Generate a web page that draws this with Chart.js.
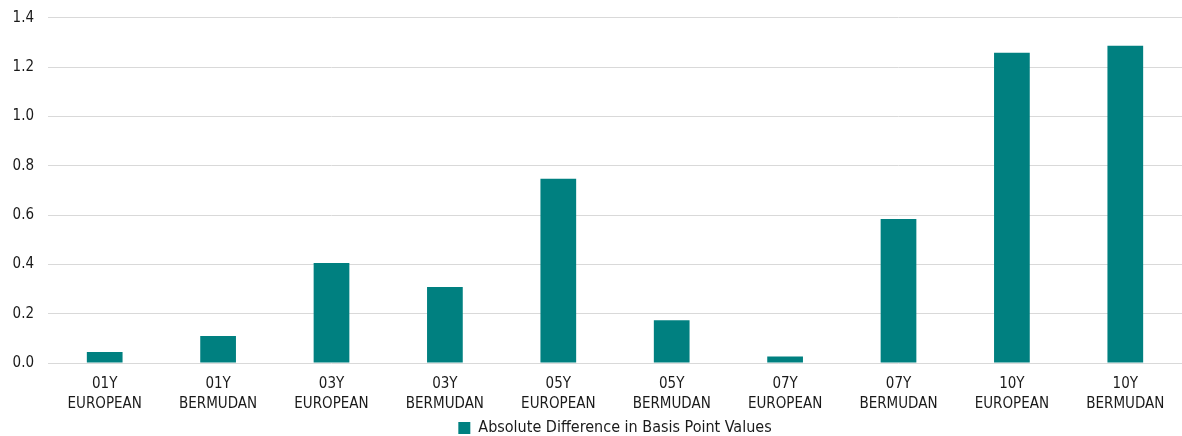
<!DOCTYPE html>
<html>
<head>
<meta charset="utf-8">
<script src="https://cdn.jsdelivr.net/npm/chart.js@4.4.9/dist/chart.umd.min.js"></script>
<style>
    html, body { margin: 0; padding: 0; background: #fff; }
    #wrap { width: 1182px; height: 436px; position: relative; }
</style>
</head>
<body>
<div id="wrap"><canvas id="chartBar"></canvas></div>
<script>
const categorias = [
    ['01Y', 'EUROPEAN'], ['01Y', 'BERMUDAN'],
    ['03Y', 'EUROPEAN'], ['03Y', 'BERMUDAN'],
    ['05Y', 'EUROPEAN'], ['05Y', 'BERMUDAN'],
    ['07Y', 'EUROPEAN'], ['07Y', 'BERMUDAN'],
    ['10Y', 'EUROPEAN'], ['10Y', 'BERMUDAN']
];
const valores = [0.045, 0.109, 0.406, 0.308, 0.747, 0.173, 0.026, 0.584, 1.258, 1.286];
const serieNome = 'Absolute Difference in Basis Point Values';
const ticksY = [0, 0.2, 0.4, 0.6, 0.8, 1.0, 1.2, 1.4];

const fonte = "'DejaVu Sans Condensed', 'DejaVu Sans', sans-serif";
const corTexto = '#1a1a1a';

const ctx = document.getElementById('chartBar');
new Chart(ctx, {
    type: 'bar',
    data: {
        labels: categorias,
        datasets: [{
            label: serieNome,
            data: valores,
            backgroundColor: '#008080',
            categoryPercentage: 1.0,
            barPercentage: 0.315
        }]
    },
    options: {
        responsive: true,
        maintainAspectRatio: false,
        animation: false,
        // bottom negativo: empurra a folga extra da legenda para fora do canvas
        layout: { padding: { top: 17, right: -6, bottom: -10, left: 0 } },
        plugins: {
            tooltip: { enabled: false },
            legend: {
                position: 'bottom',
                fullSize: false,
                labels: {
                    boxWidth: 12,
                    boxHeight: 12,
                    padding: 0,
                    color: corTexto,
                    font: { family: fonte, size: 16, lineHeight: 1 }
                }
            }
        },
        scales: {
            x: {
                grid: { display: false, drawTicks: false },
                border: { display: false },
                afterFit: axis => { axis.height = 57; },
                ticks: {
                    color: corTexto,
                    maxRotation: 0,
                    padding: 11,
                    font: { family: fonte, size: 15, lineHeight: 1.33 }
                }
            },
            y: {
                min: 0,
                max: 1.4,
                afterBuildTicks: axis => { axis.ticks = ticksY.map(v => ({ value: v })); },
                afterFit: axis => { axis.width = 48; },
                grid: { color: '#d9d9d9', lineWidth: 1, drawTicks: false },
                border: { display: false },
                ticks: {
                    color: corTexto,
                    padding: 14,
                    font: { family: fonte, size: 15, lineHeight: 0.5 },
                    callback: v => v.toFixed(1)
                }
            }
        }
    }
});
</script>
</body>
</html>
